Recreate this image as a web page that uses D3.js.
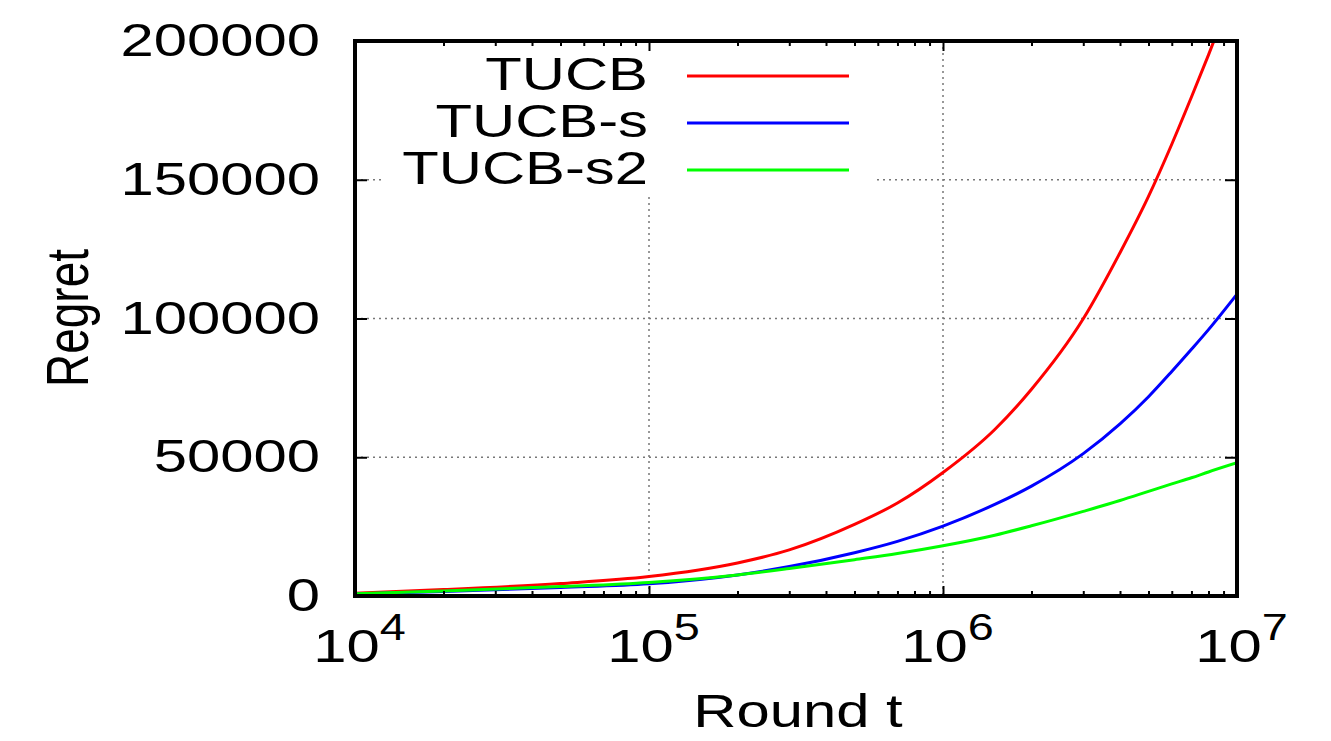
<!DOCTYPE html>
<html>
<head>
<meta charset="utf-8">
<script src="https://cdn.jsdelivr.net/npm/d3@7"></script>
<style>
  body { margin: 0; background: #fff; }
  text { font-family: "Liberation Sans", Arial, sans-serif; fill: #000; }
</style>
</head>
<body>
<div id="chart"></div>
<script>
// data
var rounds = [1e4, 2e4, 5e4, 1e5, 2e5, 3e5, 5e5, 7e5, 1e6, 1.5e6, 2e6, 3e6, 4e6, 5e6, 6e6, 7e6, 8e6, 1e7];
var tucb   = [1000, 2300, 4500, 7000, 11900, 16600, 25800, 33500, 44500, 60000, 74500, 99900, 123700, 144000, 162800, 179800, 195000, 221500];
var tucbS  = [700, 1600, 3100, 4400, 7600, 10600, 15600, 19700, 25200, 33000, 39600, 51300, 62000, 71800, 80900, 88900, 96000, 108800];
var tucbS2 = [800, 1800, 3400, 4900, 7600, 9900, 13100, 15300, 18100, 21900, 25300, 30500, 34400, 37700, 40400, 42600, 44700, 48000];

var seriesNames = ["TUCB", "TUCB-s", "TUCB-s2"];
var seriesColors = ["#ff0000", "#0000ff", "#00ff00"];
var xMajor = [1e4, 1e5, 1e6, 1e7];
var yTicks = [0, 50000, 100000, 150000, 200000];

var svgWidth = 1331;
var svgHeight = 741;
var margin = { top: 41, right: 94, bottom: 145, left: 355 };
var width = svgWidth - margin.left - margin.right;
var height = svgHeight - margin.top - margin.bottom;
var stretch = 1.3;   // text in the picture is wider than normal

var svg = d3.select("#chart")
  .append("svg")
  .attr("width", svgWidth)
  .attr("height", svgHeight);

var chartGroup = svg.append("g")
  .attr("transform", `translate(${margin.left}, ${margin.top})`);

var x = d3.scaleLog().domain([1e4, 1e7]).range([0, width]);
var y = d3.scaleLinear().domain([0, 200000]).range([height, 0]);

// minor ticks 2..9 per decade
var xMinor = [];
[1e4, 1e5, 1e6].forEach(d => {
  for (var k = 2; k <= 9; k++) xMinor.push(d * k);
});

// grid
var grid = chartGroup.append("g").attr("class", "grid");
grid.selectAll(".gx")
  .data([1e5, 1e6])
  .enter().append("line")
  .attr("x1", d => x(d)).attr("x2", d => x(d))
  .attr("y1", 0).attr("y2", height);
grid.selectAll(".gy")
  .data([50000, 100000, 150000])
  .enter().append("line")
  .attr("x1", 0).attr("x2", width)
  .attr("y1", d => y(d)).attr("y2", d => y(d));
grid.selectAll("line")
  .attr("stroke", "#777")
  .attr("stroke-width", 1.5)
  .attr("stroke-dasharray", "2,4");

// opaque key background
chartGroup.append("rect")
  .attr("x", 30).attr("y", 2)
  .attr("width", 490).attr("height", 152)
  .attr("fill", "#fff");

// curves
chartGroup.append("clipPath").attr("id", "clip")
  .append("rect").attr("width", width).attr("height", height);

var allSeries = [tucb, tucbS, tucbS2];
var line = d3.line()
  .x((d, i) => x(rounds[i]))
  .y(d => y(d))
  .curve(d3.curveMonotoneX);

chartGroup.append("g")
  .attr("clip-path", "url(#clip)")
  .selectAll("path")
  .data(allSeries)
  .enter().append("path")
  .attr("d", d => line(d))
  .attr("fill", "none")
  .attr("stroke", (d, i) => seriesColors[i])
  .attr("stroke-width", 3);

// axes
var bottomAxis = d3.axisBottom(x).tickValues(xMajor).tickSizeInner(-10).tickSizeOuter(0).tickFormat("");
var topAxis = d3.axisTop(x).tickValues(xMajor).tickSizeInner(-10).tickSizeOuter(0).tickFormat("");
var bottomMinor = d3.axisBottom(x).tickValues(xMinor).tickSizeInner(-5).tickSizeOuter(0).tickFormat("");
var topMinor = d3.axisTop(x).tickValues(xMinor).tickSizeInner(-5).tickSizeOuter(0).tickFormat("");
var leftAxis = d3.axisLeft(y).tickValues(yTicks).tickSizeInner(-12).tickSizeOuter(0).tickFormat(d3.format("d"));
var rightAxis = d3.axisRight(y).tickValues(yTicks).tickSizeInner(-12).tickSizeOuter(0).tickFormat("");

var xAxis = chartGroup.append("g").attr("transform", `translate(0, ${height})`).call(bottomAxis);
chartGroup.append("g").call(topAxis);
chartGroup.append("g").attr("transform", `translate(0, ${height})`).call(bottomMinor);
chartGroup.append("g").call(topMinor);
var yAxis = chartGroup.append("g").call(leftAxis);
chartGroup.append("g").attr("transform", `translate(${width}, 0)`).call(rightAxis);

chartGroup.selectAll(".domain").remove();
chartGroup.selectAll(".tick line").attr("stroke", "#000").attr("stroke-width", 2);

// y tick labels
yAxis.selectAll("text")
  .attr("x", -35 / stretch)
  .attr("dy", "0.32em")
  .attr("transform", `scale(${stretch},1)`)
  .style("font-size", "46px")
  .style("font-family", "Liberation Sans, Arial, sans-serif");

// x tick labels as 10^n
xAxis.selectAll(".tick").each(function(d) {
  var t = d3.select(this).append("text")
    .attr("transform", `translate(4, 66) scale(${stretch},1)`)
    .attr("text-anchor", "middle")
    .style("font-size", "46px")
    .style("font-family", "Liberation Sans, Arial, sans-serif");
  t.append("tspan").text("10");
  t.append("tspan")
    .attr("dy", -22)
    .style("font-size", "36px")
    .text(Math.round(Math.log10(d)));
});

// border
chartGroup.append("rect")
  .attr("width", width).attr("height", height)
  .attr("fill", "none")
  .attr("stroke", "#000")
  .attr("stroke-width", 4);

// legend
var legend = chartGroup.append("g");
seriesNames.forEach((name, i) => {
  var by = 49 + i * 47;
  legend.append("text")
    .attr("transform", `translate(293, ${by}) scale(${stretch},1)`)
    .attr("text-anchor", "end")
    .style("font-size", "46px")
    .text(name);
  legend.append("line")
    .attr("x1", 332).attr("x2", 494)
    .attr("y1", by - 14).attr("y2", by - 14)
    .attr("stroke", seriesColors[i])
    .attr("stroke-width", 3);
});

// axis titles
svg.append("text")
  .attr("transform", `translate(88, 318) scale(${stretch},1) rotate(-90)`)
  .attr("text-anchor", "middle")
  .style("font-size", "46px")
  .text("Regret");

svg.append("text")
  .attr("transform", `translate(798, 727) scale(${stretch},1)`)
  .attr("text-anchor", "middle")
  .style("font-size", "46px")
  .text("Round t");
</script>
</body>
</html>
